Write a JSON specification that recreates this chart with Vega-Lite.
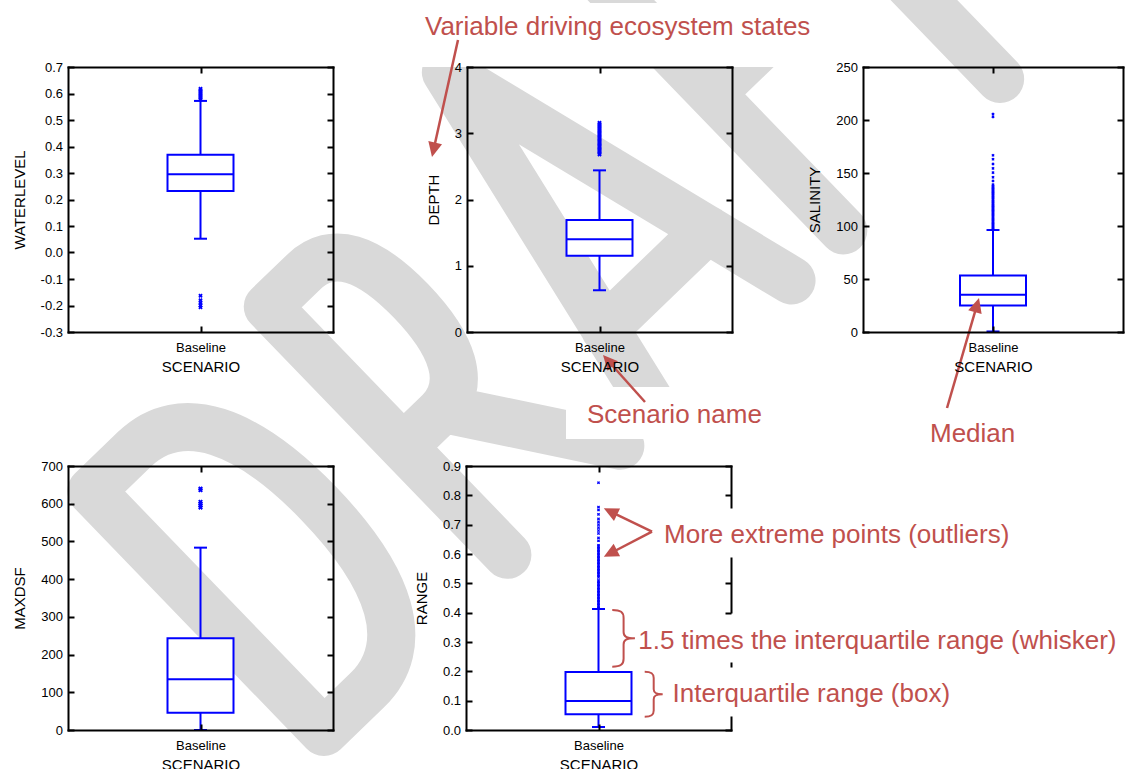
{
  "$schema": "https://vega.github.io/schema/vega-lite/v6.json",
  "width": 1130,
  "height": 769,
  "autosize": {"type": "none"},
  "padding": 0,
  "background": "white",
  "config": {
    "view": {"stroke": null},
    "font": "Liberation Sans",
    "axis": {
      "labelFont": "Liberation Sans", "titleFont": "Liberation Sans",
      "labelFontSize": 13, "titleFontSize": 15, "titleFontWeight": "normal",
      "labelColor": "black", "titleColor": "black",
      "domainColor": "black", "domainWidth": 2, "domainCap": "square",
      "tickColor": "black", "tickWidth": 2, "tickSize": -6,
      "grid": false, "minExtent": 0, "maxExtent": 0,
      "labelFlush": false, "labelOverlap": false
    }
  },
  "datasets": {
    "summary": [
      {"var": "WATERLEVEL", "scenario": "Baseline", "lo": 0.052, "q1": 0.232, "med": 0.295, "q3": 0.369, "hi": 0.572},
      {"var": "DEPTH", "scenario": "Baseline", "lo": 0.63, "q1": 1.15, "med": 1.40, "q3": 1.69, "hi": 2.44},
      {"var": "SALINITY", "scenario": "Baseline", "lo": 0.5, "q1": 25.0, "med": 35.2, "q3": 53.3, "hi": 96.2},
      {"var": "MAXDSF", "scenario": "Baseline", "lo": 0, "q1": 46, "med": 134.5, "q3": 243, "hi": 483.5},
      {"var": "RANGE", "scenario": "Baseline", "lo": 0.0102, "q1": 0.0534, "med": 0.099, "q3": 0.1977, "hi": 0.4125}
    ],
    "outliers": [
      {"var": "WATERLEVEL", "scenario": "Baseline", "value": 0.578},
      {"var": "WATERLEVEL", "scenario": "Baseline", "value": 0.583},
      {"var": "WATERLEVEL", "scenario": "Baseline", "value": 0.588},
      {"var": "WATERLEVEL", "scenario": "Baseline", "value": 0.593},
      {"var": "WATERLEVEL", "scenario": "Baseline", "value": 0.598},
      {"var": "WATERLEVEL", "scenario": "Baseline", "value": 0.603},
      {"var": "WATERLEVEL", "scenario": "Baseline", "value": 0.608},
      {"var": "WATERLEVEL", "scenario": "Baseline", "value": 0.613},
      {"var": "WATERLEVEL", "scenario": "Baseline", "value": 0.618},
      {"var": "WATERLEVEL", "scenario": "Baseline", "value": -0.163},
      {"var": "WATERLEVEL", "scenario": "Baseline", "value": -0.18},
      {"var": "WATERLEVEL", "scenario": "Baseline", "value": -0.19},
      {"var": "WATERLEVEL", "scenario": "Baseline", "value": -0.2},
      {"var": "WATERLEVEL", "scenario": "Baseline", "value": -0.207},
      {"var": "DEPTH", "scenario": "Baseline", "value": 2.68},
      {"var": "DEPTH", "scenario": "Baseline", "value": 2.70},
      {"var": "DEPTH", "scenario": "Baseline", "value": 2.72},
      {"var": "DEPTH", "scenario": "Baseline", "value": 2.74},
      {"var": "DEPTH", "scenario": "Baseline", "value": 2.76},
      {"var": "DEPTH", "scenario": "Baseline", "value": 2.78},
      {"var": "DEPTH", "scenario": "Baseline", "value": 2.80},
      {"var": "DEPTH", "scenario": "Baseline", "value": 2.82},
      {"var": "DEPTH", "scenario": "Baseline", "value": 2.84},
      {"var": "DEPTH", "scenario": "Baseline", "value": 2.86},
      {"var": "DEPTH", "scenario": "Baseline", "value": 2.88},
      {"var": "DEPTH", "scenario": "Baseline", "value": 2.90},
      {"var": "DEPTH", "scenario": "Baseline", "value": 2.92},
      {"var": "DEPTH", "scenario": "Baseline", "value": 2.94},
      {"var": "DEPTH", "scenario": "Baseline", "value": 2.96},
      {"var": "DEPTH", "scenario": "Baseline", "value": 2.98},
      {"var": "DEPTH", "scenario": "Baseline", "value": 3.00},
      {"var": "DEPTH", "scenario": "Baseline", "value": 3.02},
      {"var": "DEPTH", "scenario": "Baseline", "value": 3.04},
      {"var": "DEPTH", "scenario": "Baseline", "value": 3.06},
      {"var": "DEPTH", "scenario": "Baseline", "value": 3.08},
      {"var": "DEPTH", "scenario": "Baseline", "value": 3.10},
      {"var": "DEPTH", "scenario": "Baseline", "value": 3.12},
      {"var": "DEPTH", "scenario": "Baseline", "value": 3.14},
      {"var": "DEPTH", "scenario": "Baseline", "value": 3.16},
      {"var": "SALINITY", "scenario": "Baseline", "value": 97},
      {"var": "SALINITY", "scenario": "Baseline", "value": 98},
      {"var": "SALINITY", "scenario": "Baseline", "value": 99},
      {"var": "SALINITY", "scenario": "Baseline", "value": 100},
      {"var": "SALINITY", "scenario": "Baseline", "value": 101},
      {"var": "SALINITY", "scenario": "Baseline", "value": 102},
      {"var": "SALINITY", "scenario": "Baseline", "value": 103},
      {"var": "SALINITY", "scenario": "Baseline", "value": 104},
      {"var": "SALINITY", "scenario": "Baseline", "value": 105},
      {"var": "SALINITY", "scenario": "Baseline", "value": 106},
      {"var": "SALINITY", "scenario": "Baseline", "value": 107},
      {"var": "SALINITY", "scenario": "Baseline", "value": 108},
      {"var": "SALINITY", "scenario": "Baseline", "value": 109},
      {"var": "SALINITY", "scenario": "Baseline", "value": 110},
      {"var": "SALINITY", "scenario": "Baseline", "value": 111},
      {"var": "SALINITY", "scenario": "Baseline", "value": 112},
      {"var": "SALINITY", "scenario": "Baseline", "value": 113},
      {"var": "SALINITY", "scenario": "Baseline", "value": 114},
      {"var": "SALINITY", "scenario": "Baseline", "value": 115},
      {"var": "SALINITY", "scenario": "Baseline", "value": 116},
      {"var": "SALINITY", "scenario": "Baseline", "value": 117},
      {"var": "SALINITY", "scenario": "Baseline", "value": 118},
      {"var": "SALINITY", "scenario": "Baseline", "value": 119},
      {"var": "SALINITY", "scenario": "Baseline", "value": 120},
      {"var": "SALINITY", "scenario": "Baseline", "value": 121},
      {"var": "SALINITY", "scenario": "Baseline", "value": 122},
      {"var": "SALINITY", "scenario": "Baseline", "value": 123},
      {"var": "SALINITY", "scenario": "Baseline", "value": 124},
      {"var": "SALINITY", "scenario": "Baseline", "value": 125},
      {"var": "SALINITY", "scenario": "Baseline", "value": 126},
      {"var": "SALINITY", "scenario": "Baseline", "value": 127},
      {"var": "SALINITY", "scenario": "Baseline", "value": 128},
      {"var": "SALINITY", "scenario": "Baseline", "value": 129},
      {"var": "SALINITY", "scenario": "Baseline", "value": 130},
      {"var": "SALINITY", "scenario": "Baseline", "value": 131},
      {"var": "SALINITY", "scenario": "Baseline", "value": 132},
      {"var": "SALINITY", "scenario": "Baseline", "value": 133},
      {"var": "SALINITY", "scenario": "Baseline", "value": 134},
      {"var": "SALINITY", "scenario": "Baseline", "value": 135},
      {"var": "SALINITY", "scenario": "Baseline", "value": 136},
      {"var": "SALINITY", "scenario": "Baseline", "value": 137},
      {"var": "SALINITY", "scenario": "Baseline", "value": 138},
      {"var": "SALINITY", "scenario": "Baseline", "value": 139},
      {"var": "SALINITY", "scenario": "Baseline", "value": 142.5},
      {"var": "SALINITY", "scenario": "Baseline", "value": 146},
      {"var": "SALINITY", "scenario": "Baseline", "value": 150.3},
      {"var": "SALINITY", "scenario": "Baseline", "value": 154.4},
      {"var": "SALINITY", "scenario": "Baseline", "value": 158.5},
      {"var": "SALINITY", "scenario": "Baseline", "value": 163},
      {"var": "SALINITY", "scenario": "Baseline", "value": 166.7},
      {"var": "SALINITY", "scenario": "Baseline", "value": 203},
      {"var": "SALINITY", "scenario": "Baseline", "value": 205.5},
      {"var": "MAXDSF", "scenario": "Baseline", "value": 590},
      {"var": "MAXDSF", "scenario": "Baseline", "value": 595},
      {"var": "MAXDSF", "scenario": "Baseline", "value": 600},
      {"var": "MAXDSF", "scenario": "Baseline", "value": 605},
      {"var": "MAXDSF", "scenario": "Baseline", "value": 636},
      {"var": "MAXDSF", "scenario": "Baseline", "value": 640},
      {"var": "RANGE", "scenario": "Baseline", "value": 0.415},
      {"var": "RANGE", "scenario": "Baseline", "value": 0.42},
      {"var": "RANGE", "scenario": "Baseline", "value": 0.425},
      {"var": "RANGE", "scenario": "Baseline", "value": 0.43},
      {"var": "RANGE", "scenario": "Baseline", "value": 0.435},
      {"var": "RANGE", "scenario": "Baseline", "value": 0.44},
      {"var": "RANGE", "scenario": "Baseline", "value": 0.445},
      {"var": "RANGE", "scenario": "Baseline", "value": 0.45},
      {"var": "RANGE", "scenario": "Baseline", "value": 0.455},
      {"var": "RANGE", "scenario": "Baseline", "value": 0.46},
      {"var": "RANGE", "scenario": "Baseline", "value": 0.465},
      {"var": "RANGE", "scenario": "Baseline", "value": 0.47},
      {"var": "RANGE", "scenario": "Baseline", "value": 0.475},
      {"var": "RANGE", "scenario": "Baseline", "value": 0.48},
      {"var": "RANGE", "scenario": "Baseline", "value": 0.485},
      {"var": "RANGE", "scenario": "Baseline", "value": 0.49},
      {"var": "RANGE", "scenario": "Baseline", "value": 0.495},
      {"var": "RANGE", "scenario": "Baseline", "value": 0.5},
      {"var": "RANGE", "scenario": "Baseline", "value": 0.505},
      {"var": "RANGE", "scenario": "Baseline", "value": 0.51},
      {"var": "RANGE", "scenario": "Baseline", "value": 0.52},
      {"var": "RANGE", "scenario": "Baseline", "value": 0.525},
      {"var": "RANGE", "scenario": "Baseline", "value": 0.53},
      {"var": "RANGE", "scenario": "Baseline", "value": 0.535},
      {"var": "RANGE", "scenario": "Baseline", "value": 0.54},
      {"var": "RANGE", "scenario": "Baseline", "value": 0.545},
      {"var": "RANGE", "scenario": "Baseline", "value": 0.55},
      {"var": "RANGE", "scenario": "Baseline", "value": 0.555},
      {"var": "RANGE", "scenario": "Baseline", "value": 0.56},
      {"var": "RANGE", "scenario": "Baseline", "value": 0.565},
      {"var": "RANGE", "scenario": "Baseline", "value": 0.57},
      {"var": "RANGE", "scenario": "Baseline", "value": 0.575},
      {"var": "RANGE", "scenario": "Baseline", "value": 0.58},
      {"var": "RANGE", "scenario": "Baseline", "value": 0.585},
      {"var": "RANGE", "scenario": "Baseline", "value": 0.59},
      {"var": "RANGE", "scenario": "Baseline", "value": 0.595},
      {"var": "RANGE", "scenario": "Baseline", "value": 0.6},
      {"var": "RANGE", "scenario": "Baseline", "value": 0.605},
      {"var": "RANGE", "scenario": "Baseline", "value": 0.61},
      {"var": "RANGE", "scenario": "Baseline", "value": 0.615},
      {"var": "RANGE", "scenario": "Baseline", "value": 0.62},
      {"var": "RANGE", "scenario": "Baseline", "value": 0.625},
      {"var": "RANGE", "scenario": "Baseline", "value": 0.63},
      {"var": "RANGE", "scenario": "Baseline", "value": 0.645},
      {"var": "RANGE", "scenario": "Baseline", "value": 0.655},
      {"var": "RANGE", "scenario": "Baseline", "value": 0.67},
      {"var": "RANGE", "scenario": "Baseline", "value": 0.68},
      {"var": "RANGE", "scenario": "Baseline", "value": 0.69},
      {"var": "RANGE", "scenario": "Baseline", "value": 0.70},
      {"var": "RANGE", "scenario": "Baseline", "value": 0.71},
      {"var": "RANGE", "scenario": "Baseline", "value": 0.72},
      {"var": "RANGE", "scenario": "Baseline", "value": 0.735},
      {"var": "RANGE", "scenario": "Baseline", "value": 0.75},
      {"var": "RANGE", "scenario": "Baseline", "value": 0.76},
      {"var": "RANGE", "scenario": "Baseline", "value": 0.843}
    ]
  },
  "resolve": {"scale": {"x": "independent", "y": "independent"}, "axis": {"x": "independent", "y": "independent"}},
  "layer": [
    {
      "data": {"values": [{"label": "DRAFT", "u": 0.966, "v": -1.8094}]},
      "mark": {"type": "point", "shape": "M0,0L0,-335L60,-335C125,-335 155,-270 155,-168C155,-65 125,0 60,0Z M255,0L255,-345L305,-345C345,-345 362,-310 362,-250C362,-190 345,-150 305,-150L255,-150M310,-150L412,0 M462,0L546,-390L650,0M482,-95L625,-95 M722,0L722,-370L830,-370M722,-190L810,-190 M860,-370L1020,-370M940,-370L940,0", "size": 4, "angle": 316, "filled": false, "stroke": "#d9d9d9", "strokeWidth": 48, "strokeCap": "round", "strokeJoin": "round", "opacity": 1},
      "encoding": {
        "x": {"field": "u", "type": "quantitative", "scale": {"domain": [0, 1], "range": [68, 333], "nice": false, "zero": false}, "axis": null},
        "y": {"field": "v", "type": "quantitative", "scale": {"domain": [-0.3, 0.7], "range": [332, 67], "nice": false, "zero": false}, "axis": null}
      }
    },
    {
      "data": {"name": "summary"},
      "transform": [{"filter": "datum.var === 'WATERLEVEL'"}],
      "resolve": {"axis": {"x": "independent", "y": "independent"}},
      "layer": [
        {"mark": {"type": "rule", "color": "#0000ff", "strokeWidth": 2},
         "encoding": {
           "x": {"field": "scenario", "type": "nominal", "scale": {"type": "point", "domain": ["Baseline"], "range": [68, 333], "padding": 0.5}, "axis": {"zindex": 1, "orient": "bottom", "offset": -437, "values": ["Baseline"], "labelPadding": 15, "labelAngle": 0, "title": "SCENARIO", "titlePadding": 27}},
           "y": {"field": "lo", "type": "quantitative", "scale": {"domain": [-0.3, 0.7], "range": [332, 67], "nice": false, "zero": false}, "axis": {"zindex": 1, "orient": "left", "offset": -68, "values": [-0.3, -0.2, -0.1, 0, 0.1, 0.2, 0.3, 0.4, 0.5, 0.6, 0.7], "labelExpr": "replace(format(datum.value, '.1f'), '\u2212', '-')", "labelPadding": 11.5, "title": "WATERLEVEL", "titlePadding": 41}},
           "y2": {"field": "q1"}}},
        {"mark": {"type": "rule", "color": "#0000ff", "strokeWidth": 2},
         "encoding": {
           "x": {"field": "scenario", "type": "nominal", "scale": {"type": "point", "domain": ["Baseline"], "range": [68, 333], "padding": 0.5}, "axis": {"zindex": 1, "orient": "top", "offset": -67, "values": ["Baseline"], "labels": false, "title": null}},
           "y": {"field": "q3", "type": "quantitative", "scale": {"domain": [-0.3, 0.7], "range": [332, 67], "nice": false, "zero": false}, "axis": {"zindex": 1, "orient": "right", "offset": -797, "values": [-0.3, -0.2, -0.1, 0, 0.1, 0.2, 0.3, 0.4, 0.5, 0.6, 0.7], "labels": false, "title": null}},
           "y2": {"field": "hi"}}},
        {"mark": {"type": "bar", "size": 66, "fill": "white", "stroke": "#0000ff", "strokeWidth": 2},
         "encoding": {
           "x": {"field": "scenario", "type": "nominal", "scale": {"type": "point", "domain": ["Baseline"], "range": [68, 333], "padding": 0.5}, "axis": null},
           "y": {"field": "q1", "type": "quantitative", "scale": {"domain": [-0.3, 0.7], "range": [332, 67], "nice": false, "zero": false}, "axis": null},
           "y2": {"field": "q3"}}},
        {"mark": {"type": "tick", "size": 67, "thickness": 2, "color": "#0000ff", "opacity": 1},
         "encoding": {
           "x": {"field": "scenario", "type": "nominal", "scale": {"type": "point", "domain": ["Baseline"], "range": [68, 333], "padding": 0.5}, "axis": null},
           "y": {"field": "med", "type": "quantitative", "scale": {"domain": [-0.3, 0.7], "range": [332, 67], "nice": false, "zero": false}, "axis": null}}},
        {"mark": {"type": "tick", "size": 13, "thickness": 2, "color": "#0000ff", "opacity": 1},
         "encoding": {
           "x": {"field": "scenario", "type": "nominal", "scale": {"type": "point", "domain": ["Baseline"], "range": [68, 333], "padding": 0.5}, "axis": null},
           "y": {"field": "lo", "type": "quantitative", "scale": {"domain": [-0.3, 0.7], "range": [332, 67], "nice": false, "zero": false}, "axis": null}}},
        {"mark": {"type": "tick", "size": 13, "thickness": 2, "color": "#0000ff", "opacity": 1},
         "encoding": {
           "x": {"field": "scenario", "type": "nominal", "scale": {"type": "point", "domain": ["Baseline"], "range": [68, 333], "padding": 0.5}, "axis": null},
           "y": {"field": "hi", "type": "quantitative", "scale": {"domain": [-0.3, 0.7], "range": [332, 67], "nice": false, "zero": false}, "axis": null}}},
        {"data": {"name": "outliers"},
         "transform": [{"filter": "datum.var === 'WATERLEVEL'"}],
         "mark": {"type": "point", "shape": "cross", "angle": 45, "filled": true, "color": "#0000ff", "size": 20, "opacity": 1},
         "encoding": {
           "x": {"field": "scenario", "type": "nominal", "scale": {"type": "point", "domain": ["Baseline"], "range": [68, 333], "padding": 0.5}, "axis": null},
           "y": {"field": "value", "type": "quantitative", "scale": {"domain": [-0.3, 0.7], "range": [332, 67], "nice": false, "zero": false}, "axis": null}}}
      ]
    },
    {
      "data": {"name": "summary"},
      "transform": [{"filter": "datum.var === 'DEPTH'"}],
      "resolve": {"axis": {"x": "independent", "y": "independent"}},
      "layer": [
        {"mark": {"type": "rule", "color": "#0000ff", "strokeWidth": 2},
         "encoding": {
           "x": {"field": "scenario", "type": "nominal", "scale": {"type": "point", "domain": ["Baseline"], "range": [467, 732], "padding": 0.5}, "axis": {"zindex": 1, "orient": "bottom", "offset": -437, "values": ["Baseline"], "labelPadding": 15, "labelAngle": 0, "title": "SCENARIO", "titlePadding": 27}},
           "y": {"field": "lo", "type": "quantitative", "scale": {"domain": [0, 4], "range": [332, 67], "nice": false, "zero": false}, "axis": {"zindex": 1, "orient": "left", "offset": -467, "values": [0, 1, 2, 3, 4], "format": "d", "labelPadding": 11.5, "title": "DEPTH", "titlePadding": 25.5}},
           "y2": {"field": "q1"}}},
        {"mark": {"type": "rule", "color": "#0000ff", "strokeWidth": 2},
         "encoding": {
           "x": {"field": "scenario", "type": "nominal", "scale": {"type": "point", "domain": ["Baseline"], "range": [467, 732], "padding": 0.5}, "axis": {"zindex": 1, "orient": "top", "offset": -67, "values": ["Baseline"], "labels": false, "title": null}},
           "y": {"field": "q3", "type": "quantitative", "scale": {"domain": [0, 4], "range": [332, 67], "nice": false, "zero": false}, "axis": {"zindex": 1, "orient": "right", "offset": -398, "values": [0, 1, 2, 3, 4], "labels": false, "title": null}},
           "y2": {"field": "hi"}}},
        {"mark": {"type": "bar", "size": 66, "fill": "white", "stroke": "#0000ff", "strokeWidth": 2},
         "encoding": {
           "x": {"field": "scenario", "type": "nominal", "scale": {"type": "point", "domain": ["Baseline"], "range": [467, 732], "padding": 0.5}, "axis": null},
           "y": {"field": "q1", "type": "quantitative", "scale": {"domain": [0, 4], "range": [332, 67], "nice": false, "zero": false}, "axis": null},
           "y2": {"field": "q3"}}},
        {"mark": {"type": "tick", "size": 67, "thickness": 2, "color": "#0000ff", "opacity": 1},
         "encoding": {
           "x": {"field": "scenario", "type": "nominal", "scale": {"type": "point", "domain": ["Baseline"], "range": [467, 732], "padding": 0.5}, "axis": null},
           "y": {"field": "med", "type": "quantitative", "scale": {"domain": [0, 4], "range": [332, 67], "nice": false, "zero": false}, "axis": null}}},
        {"mark": {"type": "tick", "size": 13, "thickness": 2, "color": "#0000ff", "opacity": 1},
         "encoding": {
           "x": {"field": "scenario", "type": "nominal", "scale": {"type": "point", "domain": ["Baseline"], "range": [467, 732], "padding": 0.5}, "axis": null},
           "y": {"field": "lo", "type": "quantitative", "scale": {"domain": [0, 4], "range": [332, 67], "nice": false, "zero": false}, "axis": null}}},
        {"mark": {"type": "tick", "size": 13, "thickness": 2, "color": "#0000ff", "opacity": 1},
         "encoding": {
           "x": {"field": "scenario", "type": "nominal", "scale": {"type": "point", "domain": ["Baseline"], "range": [467, 732], "padding": 0.5}, "axis": null},
           "y": {"field": "hi", "type": "quantitative", "scale": {"domain": [0, 4], "range": [332, 67], "nice": false, "zero": false}, "axis": null}}},
        {"data": {"name": "outliers"},
         "transform": [{"filter": "datum.var === 'DEPTH'"}],
         "mark": {"type": "point", "shape": "cross", "angle": 45, "filled": true, "color": "#0000ff", "size": 20, "opacity": 1},
         "encoding": {
           "x": {"field": "scenario", "type": "nominal", "scale": {"type": "point", "domain": ["Baseline"], "range": [467, 732], "padding": 0.5}, "axis": null},
           "y": {"field": "value", "type": "quantitative", "scale": {"domain": [0, 4], "range": [332, 67], "nice": false, "zero": false}, "axis": null}}}
      ]
    },
    {
      "data": {"name": "summary"},
      "transform": [{"filter": "datum.var === 'SALINITY'"}],
      "resolve": {"axis": {"x": "independent", "y": "independent"}},
      "layer": [
        {"mark": {"type": "rule", "color": "#0000ff", "strokeWidth": 2},
         "encoding": {
           "x": {"field": "scenario", "type": "nominal", "scale": {"type": "point", "domain": ["Baseline"], "range": [863, 1123], "padding": 0.5}, "axis": {"zindex": 1, "orient": "bottom", "offset": -437, "values": ["Baseline"], "labelPadding": 15, "labelAngle": 0, "title": "SCENARIO", "titlePadding": 27}},
           "y": {"field": "lo", "type": "quantitative", "scale": {"domain": [0, 250], "range": [332, 67], "nice": false, "zero": false}, "axis": {"zindex": 1, "orient": "left", "offset": -863, "values": [0, 50, 100, 150, 200, 250], "format": "d", "labelPadding": 11.5, "title": "SALINITY", "titlePadding": 40.5}},
           "y2": {"field": "q1"}}},
        {"mark": {"type": "rule", "color": "#0000ff", "strokeWidth": 2},
         "encoding": {
           "x": {"field": "scenario", "type": "nominal", "scale": {"type": "point", "domain": ["Baseline"], "range": [863, 1123], "padding": 0.5}, "axis": {"zindex": 1, "orient": "top", "offset": -67, "values": ["Baseline"], "labels": false, "title": null}},
           "y": {"field": "q3", "type": "quantitative", "scale": {"domain": [0, 250], "range": [332, 67], "nice": false, "zero": false}, "axis": {"zindex": 1, "orient": "right", "offset": -7, "values": [0, 50, 100, 150, 200, 250], "labels": false, "title": null}},
           "y2": {"field": "hi"}}},
        {"mark": {"type": "bar", "size": 66, "fill": "white", "stroke": "#0000ff", "strokeWidth": 2},
         "encoding": {
           "x": {"field": "scenario", "type": "nominal", "scale": {"type": "point", "domain": ["Baseline"], "range": [863, 1123], "padding": 0.5}, "axis": null},
           "y": {"field": "q1", "type": "quantitative", "scale": {"domain": [0, 250], "range": [332, 67], "nice": false, "zero": false}, "axis": null},
           "y2": {"field": "q3"}}},
        {"mark": {"type": "tick", "size": 67, "thickness": 2, "color": "#0000ff", "opacity": 1},
         "encoding": {
           "x": {"field": "scenario", "type": "nominal", "scale": {"type": "point", "domain": ["Baseline"], "range": [863, 1123], "padding": 0.5}, "axis": null},
           "y": {"field": "med", "type": "quantitative", "scale": {"domain": [0, 250], "range": [332, 67], "nice": false, "zero": false}, "axis": null}}},
        {"mark": {"type": "tick", "size": 13, "thickness": 2, "color": "#0000ff", "opacity": 1},
         "encoding": {
           "x": {"field": "scenario", "type": "nominal", "scale": {"type": "point", "domain": ["Baseline"], "range": [863, 1123], "padding": 0.5}, "axis": null},
           "y": {"field": "lo", "type": "quantitative", "scale": {"domain": [0, 250], "range": [332, 67], "nice": false, "zero": false}, "axis": null}}},
        {"mark": {"type": "tick", "size": 13, "thickness": 2, "color": "#0000ff", "opacity": 1},
         "encoding": {
           "x": {"field": "scenario", "type": "nominal", "scale": {"type": "point", "domain": ["Baseline"], "range": [863, 1123], "padding": 0.5}, "axis": null},
           "y": {"field": "hi", "type": "quantitative", "scale": {"domain": [0, 250], "range": [332, 67], "nice": false, "zero": false}, "axis": null}}},
        {"data": {"name": "outliers"},
         "transform": [{"filter": "datum.var === 'SALINITY'"}],
         "mark": {"type": "point", "shape": "cross", "angle": 45, "filled": true, "color": "#0000ff", "size": 10, "opacity": 1},
         "encoding": {
           "x": {"field": "scenario", "type": "nominal", "scale": {"type": "point", "domain": ["Baseline"], "range": [863, 1123], "padding": 0.5}, "axis": null},
           "y": {"field": "value", "type": "quantitative", "scale": {"domain": [0, 250], "range": [332, 67], "nice": false, "zero": false}, "axis": null}}}
      ]
    },
    {
      "data": {"name": "summary"},
      "transform": [{"filter": "datum.var === 'MAXDSF'"}],
      "resolve": {"axis": {"x": "independent", "y": "independent"}},
      "layer": [
        {"mark": {"type": "rule", "color": "#0000ff", "strokeWidth": 2},
         "encoding": {
           "x": {"field": "scenario", "type": "nominal", "scale": {"type": "point", "domain": ["Baseline"], "range": [68, 333], "padding": 0.5}, "axis": {"zindex": 1, "orient": "bottom", "offset": -39, "values": ["Baseline"], "labelPadding": 15, "labelAngle": 0, "title": "SCENARIO", "titlePadding": 27}},
           "y": {"field": "lo", "type": "quantitative", "scale": {"domain": [0, 700], "range": [730, 466], "nice": false, "zero": false}, "axis": {"zindex": 1, "orient": "left", "offset": -68, "values": [0, 100, 200, 300, 400, 500, 600, 700], "format": "d", "labelPadding": 11.5, "title": "MAXDSF", "titlePadding": 41}},
           "y2": {"field": "q1"}}},
        {"mark": {"type": "rule", "color": "#0000ff", "strokeWidth": 2},
         "encoding": {
           "x": {"field": "scenario", "type": "nominal", "scale": {"type": "point", "domain": ["Baseline"], "range": [68, 333], "padding": 0.5}, "axis": {"zindex": 1, "orient": "top", "offset": -466, "values": ["Baseline"], "labels": false, "title": null}},
           "y": {"field": "q3", "type": "quantitative", "scale": {"domain": [0, 700], "range": [730, 466], "nice": false, "zero": false}, "axis": {"zindex": 1, "orient": "right", "offset": -797, "values": [0, 100, 200, 300, 400, 500, 600, 700], "labels": false, "title": null}},
           "y2": {"field": "hi"}}},
        {"mark": {"type": "bar", "size": 66, "fill": "white", "stroke": "#0000ff", "strokeWidth": 2},
         "encoding": {
           "x": {"field": "scenario", "type": "nominal", "scale": {"type": "point", "domain": ["Baseline"], "range": [68, 333], "padding": 0.5}, "axis": null},
           "y": {"field": "q1", "type": "quantitative", "scale": {"domain": [0, 700], "range": [730, 466], "nice": false, "zero": false}, "axis": null},
           "y2": {"field": "q3"}}},
        {"mark": {"type": "tick", "size": 67, "thickness": 2, "color": "#0000ff", "opacity": 1},
         "encoding": {
           "x": {"field": "scenario", "type": "nominal", "scale": {"type": "point", "domain": ["Baseline"], "range": [68, 333], "padding": 0.5}, "axis": null},
           "y": {"field": "med", "type": "quantitative", "scale": {"domain": [0, 700], "range": [730, 466], "nice": false, "zero": false}, "axis": null}}},
        {"mark": {"type": "tick", "size": 13, "thickness": 2, "color": "#0000ff", "opacity": 1},
         "encoding": {
           "x": {"field": "scenario", "type": "nominal", "scale": {"type": "point", "domain": ["Baseline"], "range": [68, 333], "padding": 0.5}, "axis": null},
           "y": {"field": "lo", "type": "quantitative", "scale": {"domain": [0, 700], "range": [730, 466], "nice": false, "zero": false}, "axis": null}}},
        {"mark": {"type": "tick", "size": 13, "thickness": 2, "color": "#0000ff", "opacity": 1},
         "encoding": {
           "x": {"field": "scenario", "type": "nominal", "scale": {"type": "point", "domain": ["Baseline"], "range": [68, 333], "padding": 0.5}, "axis": null},
           "y": {"field": "hi", "type": "quantitative", "scale": {"domain": [0, 700], "range": [730, 466], "nice": false, "zero": false}, "axis": null}}},
        {"data": {"name": "outliers"},
         "transform": [{"filter": "datum.var === 'MAXDSF'"}],
         "mark": {"type": "point", "shape": "cross", "angle": 45, "filled": true, "color": "#0000ff", "size": 24, "opacity": 1},
         "encoding": {
           "x": {"field": "scenario", "type": "nominal", "scale": {"type": "point", "domain": ["Baseline"], "range": [68, 333], "padding": 0.5}, "axis": null},
           "y": {"field": "value", "type": "quantitative", "scale": {"domain": [0, 700], "range": [730, 466], "nice": false, "zero": false}, "axis": null}}}
      ]
    },
    {
      "data": {"name": "summary"},
      "transform": [{"filter": "datum.var === 'RANGE'"}],
      "resolve": {"axis": {"x": "independent", "y": "independent"}},
      "layer": [
        {"mark": {"type": "rule", "color": "#0000ff", "strokeWidth": 2},
         "encoding": {
           "x": {"field": "scenario", "type": "nominal", "scale": {"type": "point", "domain": ["Baseline"], "range": [466, 731], "padding": 0.5}, "axis": {"zindex": 1, "orient": "bottom", "offset": -39, "values": ["Baseline"], "labelPadding": 15, "labelAngle": 0, "title": "SCENARIO", "titlePadding": 27}},
           "y": {"field": "lo", "type": "quantitative", "scale": {"domain": [0, 0.9], "range": [730, 466], "nice": false, "zero": false}, "axis": {"zindex": 1, "orient": "left", "offset": -466, "values": [0, 0.1, 0.2, 0.3, 0.4, 0.5, 0.6, 0.7, 0.8, 0.9], "format": ".1f", "labelPadding": 11.5, "title": "RANGE", "titlePadding": 36.5}},
           "y2": {"field": "q1"}}},
        {"mark": {"type": "rule", "color": "#0000ff", "strokeWidth": 2},
         "encoding": {
           "x": {"field": "scenario", "type": "nominal", "scale": {"type": "point", "domain": ["Baseline"], "range": [466, 731], "padding": 0.5}, "axis": {"zindex": 1, "orient": "top", "offset": -466, "values": ["Baseline"], "labels": false, "title": null}},
           "y": {"field": "q3", "type": "quantitative", "scale": {"domain": [0, 0.9], "range": [730, 466], "nice": false, "zero": false}, "axis": {"zindex": 1, "orient": "right", "offset": -399, "values": [0, 0.4, 0.5, 0.8, 0.9], "labels": false, "title": null, "domainDash": [13, 51, 3, 51, 54, 51, 41, 10]}},
           "y2": {"field": "hi"}}},
        {"mark": {"type": "bar", "size": 66, "fill": "white", "stroke": "#0000ff", "strokeWidth": 2},
         "encoding": {
           "x": {"field": "scenario", "type": "nominal", "scale": {"type": "point", "domain": ["Baseline"], "range": [466, 731], "padding": 0.5}, "axis": null},
           "y": {"field": "q1", "type": "quantitative", "scale": {"domain": [0, 0.9], "range": [730, 466], "nice": false, "zero": false}, "axis": null},
           "y2": {"field": "q3"}}},
        {"mark": {"type": "tick", "size": 67, "thickness": 2, "color": "#0000ff", "opacity": 1},
         "encoding": {
           "x": {"field": "scenario", "type": "nominal", "scale": {"type": "point", "domain": ["Baseline"], "range": [466, 731], "padding": 0.5}, "axis": null},
           "y": {"field": "med", "type": "quantitative", "scale": {"domain": [0, 0.9], "range": [730, 466], "nice": false, "zero": false}, "axis": null}}},
        {"mark": {"type": "tick", "size": 13, "thickness": 2, "color": "#0000ff", "opacity": 1},
         "encoding": {
           "x": {"field": "scenario", "type": "nominal", "scale": {"type": "point", "domain": ["Baseline"], "range": [466, 731], "padding": 0.5}, "axis": null},
           "y": {"field": "lo", "type": "quantitative", "scale": {"domain": [0, 0.9], "range": [730, 466], "nice": false, "zero": false}, "axis": null}}},
        {"mark": {"type": "tick", "size": 13, "thickness": 2, "color": "#0000ff", "opacity": 1},
         "encoding": {
           "x": {"field": "scenario", "type": "nominal", "scale": {"type": "point", "domain": ["Baseline"], "range": [466, 731], "padding": 0.5}, "axis": null},
           "y": {"field": "hi", "type": "quantitative", "scale": {"domain": [0, 0.9], "range": [730, 466], "nice": false, "zero": false}, "axis": null}}},
        {"data": {"name": "outliers"},
         "transform": [{"filter": "datum.var === 'RANGE'"}],
         "mark": {"type": "point", "shape": "cross", "angle": 45, "filled": true, "color": "#0000ff", "size": 10, "opacity": 1},
         "encoding": {
           "x": {"field": "scenario", "type": "nominal", "scale": {"type": "point", "domain": ["Baseline"], "range": [466, 731], "padding": 0.5}, "axis": null},
           "y": {"field": "value", "type": "quantitative", "scale": {"domain": [0, 0.9], "range": [730, 466], "nice": false, "zero": false}, "axis": null}}}
      ]
    },
    {
      "layer": [
        {"data": {"values": [{"u1": -0.1774, "u2": 1.5208, "v1": 4.966, "v2": 4.0}, {"u1": 0.3736, "u2": 1.1623, "v1": -0.83, "v2": -1.615}]},
         "mark": {"type": "rect", "fill": "white"},
         "encoding": {
           "x": {"field": "u1", "type": "quantitative", "scale": {"domain": [0, 1], "range": [467, 732], "nice": false, "zero": false}, "axis": null},
           "x2": {"field": "u2"},
           "y": {"field": "v1", "type": "quantitative", "scale": {"domain": [0, 4], "range": [332, 67], "nice": false, "zero": false}, "axis": null},
           "y2": {"field": "v2"}}},
        {"data": {"values": [{"label": "Variable driving ecosystem states", "u": -0.1585, "v": 4.483}, {"label": "Scenario name", "u": 0.4528, "v": -1.3736}]},
         "mark": {"type": "text", "align": "left", "baseline": "alphabetic", "font": "Liberation Sans", "fontSize": 26, "color": "#c0504d"},
         "encoding": {
           "x": {"field": "u", "type": "quantitative", "scale": {"domain": [0, 1], "range": [467, 732], "nice": false, "zero": false}, "axis": null},
           "y": {"field": "v", "type": "quantitative", "scale": {"domain": [0, 4], "range": [332, 67], "nice": false, "zero": false}, "axis": null},
           "text": {"field": "label"}}},
        {"data": {"values": [{"u": -0.034, "v": 4.408, "u2": -0.1257, "v2": 2.759}, {"u": 0.6717, "v": -1.0566, "u2": 0.5332, "v2": -0.4377}]},
         "mark": {"type": "rule", "color": "#c0504d", "strokeWidth": 2.5},
         "encoding": {
           "x": {"field": "u", "type": "quantitative", "scale": {"domain": [0, 1], "range": [467, 732], "nice": false, "zero": false}, "axis": null},
           "y": {"field": "v", "type": "quantitative", "scale": {"domain": [0, 4], "range": [332, 67], "nice": false, "zero": false}, "axis": null},
           "x2": {"field": "u2"},
           "y2": {"field": "v2"}}},
        {"data": {"values": [{"u": -0.1321, "v": 2.642}]},
         "mark": {"type": "point", "shape": "M0,0L-0.5,1.05L0.5,1.05Z", "size": 784, "angle": 192.5, "filled": true, "color": "#c0504d", "opacity": 1},
         "encoding": {
           "x": {"field": "u", "type": "quantitative", "scale": {"domain": [0, 1], "range": [467, 732], "nice": false, "zero": false}, "axis": null},
           "y": {"field": "v", "type": "quantitative", "scale": {"domain": [0, 4], "range": [332, 67], "nice": false, "zero": false}, "axis": null}}},
        {"data": {"values": [{"u": 0.5132, "v": -0.3472}]},
         "mark": {"type": "point", "shape": "M0,0L-0.5,1.05L0.5,1.05Z", "size": 784, "angle": 318.2, "filled": true, "color": "#c0504d", "opacity": 1},
         "encoding": {
           "x": {"field": "u", "type": "quantitative", "scale": {"domain": [0, 1], "range": [467, 732], "nice": false, "zero": false}, "axis": null},
           "y": {"field": "v", "type": "quantitative", "scale": {"domain": [0, 4], "range": [332, 67], "nice": false, "zero": false}, "axis": null}}}
      ]
    },
    {
      "layer": [
        {"data": {"values": [{"label": "Median", "u": 0.2577, "v": -103.8}]},
         "mark": {"type": "text", "align": "left", "baseline": "alphabetic", "font": "Liberation Sans", "fontSize": 26, "color": "#c0504d"},
         "encoding": {
           "x": {"field": "u", "type": "quantitative", "scale": {"domain": [0, 1], "range": [863, 1123], "nice": false, "zero": false}, "axis": null},
           "y": {"field": "v", "type": "quantitative", "scale": {"domain": [0, 250], "range": [332, 67], "nice": false, "zero": false}, "axis": null},
           "text": {"field": "label"}}},
        {"data": {"values": [{"u": 0.3231, "v": -71.7, "u2": 0.4377, "v2": 24.8}]},
         "mark": {"type": "rule", "color": "#c0504d", "strokeWidth": 2.5},
         "encoding": {
           "x": {"field": "u", "type": "quantitative", "scale": {"domain": [0, 1], "range": [863, 1123], "nice": false, "zero": false}, "axis": null},
           "y": {"field": "v", "type": "quantitative", "scale": {"domain": [0, 250], "range": [332, 67], "nice": false, "zero": false}, "axis": null},
           "x2": {"field": "u2"},
           "y2": {"field": "v2"}}},
        {"data": {"values": [{"u": 0.4462, "v": 32.1}]},
         "mark": {"type": "point", "shape": "M0,0L-0.5,1.05L0.5,1.05Z", "size": 784, "angle": 16.2, "filled": true, "color": "#c0504d", "opacity": 1},
         "encoding": {
           "x": {"field": "u", "type": "quantitative", "scale": {"domain": [0, 1], "range": [863, 1123], "nice": false, "zero": false}, "axis": null},
           "y": {"field": "v", "type": "quantitative", "scale": {"domain": [0, 250], "range": [332, 67], "nice": false, "zero": false}, "axis": null}}}
      ]
    },
    {
      "layer": [
        {"data": {"values": [{"label": "More extreme points (outliers)", "u": 0.7472, "v": 0.6365}, {"label": "1.5 times the interquartile range (whisker)", "u": 0.6498, "v": 0.2751}, {"label": "Interquartile range (box)", "u": 0.7796, "v": 0.0944}]},
         "mark": {"type": "text", "align": "left", "baseline": "alphabetic", "font": "Liberation Sans", "fontSize": 26, "color": "#c0504d"},
         "encoding": {
           "x": {"field": "u", "type": "quantitative", "scale": {"domain": [0, 1], "range": [466, 731], "nice": false, "zero": false}, "axis": null},
           "y": {"field": "v", "type": "quantitative", "scale": {"domain": [0, 0.9], "range": [730, 466], "nice": false, "zero": false}, "axis": null},
           "text": {"field": "label"}}},
        {"data": {"values": [{"u": 0.7019, "v": 0.676, "u2": 0.5472, "v2": 0.7439}, {"u": 0.7019, "v": 0.676, "u2": 0.5468, "v2": 0.6034}]},
         "mark": {"type": "rule", "color": "#c0504d", "strokeWidth": 2.5},
         "encoding": {
           "x": {"field": "u", "type": "quantitative", "scale": {"domain": [0, 1], "range": [466, 731], "nice": false, "zero": false}, "axis": null},
           "y": {"field": "v", "type": "quantitative", "scale": {"domain": [0, 0.9], "range": [730, 466], "nice": false, "zero": false}, "axis": null},
           "x2": {"field": "u2"},
           "y2": {"field": "v2"}}},
        {"data": {"values": [{"u": 0.52, "v": 0.7558}]},
         "mark": {"type": "point", "shape": "M0,0L-0.5,1.05L0.5,1.05Z", "size": 784, "angle": 295.9, "filled": true, "color": "#c0504d", "opacity": 1},
         "encoding": {
           "x": {"field": "u", "type": "quantitative", "scale": {"domain": [0, 1], "range": [466, 731], "nice": false, "zero": false}, "axis": null},
           "y": {"field": "v", "type": "quantitative", "scale": {"domain": [0, 0.9], "range": [730, 466], "nice": false, "zero": false}, "axis": null}}},
        {"data": {"values": [{"u": 0.52, "v": 0.5908}]},
         "mark": {"type": "point", "shape": "M0,0L-0.5,1.05L0.5,1.05Z", "size": 784, "angle": 242.6, "filled": true, "color": "#c0504d", "opacity": 1},
         "encoding": {
           "x": {"field": "u", "type": "quantitative", "scale": {"domain": [0, 1], "range": [466, 731], "nice": false, "zero": false}, "axis": null},
           "y": {"field": "v", "type": "quantitative", "scale": {"domain": [0, 0.9], "range": [730, 466], "nice": false, "zero": false}, "axis": null}}},
        {"data": {"values": [{"u": 0.5947, "v": 0.3126}]},
         "mark": {"type": "point", "shape": "M-0.4,-1C-0.1,-1 0,-0.92 0,-0.72L0,-0.22C0,-0.06 0.1,0 0.4,0C0.1,0 0,0.06 0,0.22L0,0.72C0,0.92 -0.1,1 -0.4,1", "size": 3215, "filled": false, "stroke": "#c0504d", "strokeWidth": 2, "opacity": 1},
         "encoding": {
           "x": {"field": "u", "type": "quantitative", "scale": {"domain": [0, 1], "range": [466, 731], "nice": false, "zero": false}, "axis": null},
           "y": {"field": "v", "type": "quantitative", "scale": {"domain": [0, 0.9], "range": [730, 466], "nice": false, "zero": false}, "axis": null}}},
        {"data": {"values": [{"u": 0.7083, "v": 0.122}]},
         "mark": {"type": "point", "shape": "M-0.4,-1C-0.1,-1 0,-0.92 0,-0.72L0,-0.22C0,-0.06 0.1,0 0.4,0C0.1,0 0,0.06 0,0.22L0,0.72C0,0.92 -0.1,1 -0.4,1", "size": 2025, "filled": false, "stroke": "#c0504d", "strokeWidth": 2, "opacity": 1},
         "encoding": {
           "x": {"field": "u", "type": "quantitative", "scale": {"domain": [0, 1], "range": [466, 731], "nice": false, "zero": false}, "axis": null},
           "y": {"field": "v", "type": "quantitative", "scale": {"domain": [0, 0.9], "range": [730, 466], "nice": false, "zero": false}, "axis": null}}}
      ]
    }
  ]
}
